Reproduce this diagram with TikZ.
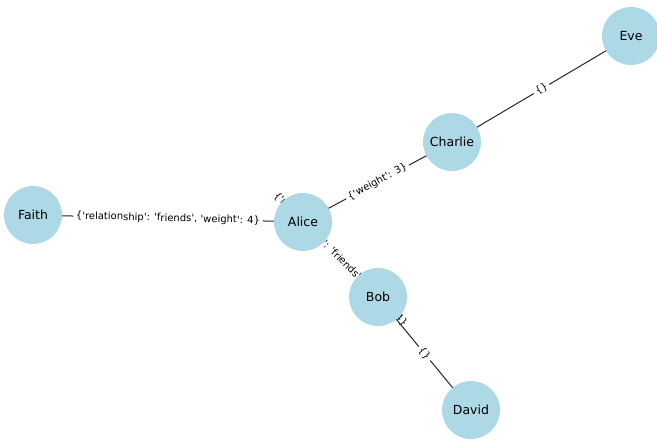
\documentclass[tikz,border=0pt]{standalone}
\usepackage{fontspec}
\setmainfont{DejaVu Sans}[Ligatures=TeXOff]
\definecolor{nodeblue}{HTML}{ADD8E6}
\pgfdeclarelayer{background}
\pgfsetlayers{background,main}
\begin{document}
\begin{tikzpicture}[x=1bp,y=-1bp,
  vertex/.style={circle,fill=nodeblue,minimum size=58bp,inner sep=0pt,font=\fontsize{12.5bp}{14bp}\selectfont},
  edge/.style={draw=black!85,line width=1bp},
  elabel/.style={fill=white,inner sep=2.5bp,rounded corners=2bp,font=\fontsize{10bp}{12bp}\selectfont,midway,sloped}]
\useasboundingbox (0,0) rectangle (657,440);
\node[vertex] (eve) at (631,36) {Eve};
\node[vertex] (charlie) at (452,142) {Charlie};
\node[vertex] (faith) at (33,215) {Faith};
\node[vertex] (alice) at (303,222) {Alice};
\node[vertex] (bob) at (378,297) {Bob};
\node[vertex] (david) at (471,410) {David};
\begin{pgfonlayer}{background}
\path[edge] (charlie.center) -- node[elabel] {\{\}} (eve.center);
\path[edge] (alice.center) -- node[elabel] {\{'weight': 3\}} (charlie.center);
\path[edge] (faith.center) -- node[elabel] {\{'relationship': 'friends', 'weight': 4\}} (alice.center);
\path[edge] (alice.center) -- node[elabel] {\{'relationship': 'friends', 'weight': 4\}} (bob.center);
\path[edge] (bob.center) -- node[elabel] {\{\}} (david.center);
\end{pgfonlayer}
\end{tikzpicture}
\end{document}
